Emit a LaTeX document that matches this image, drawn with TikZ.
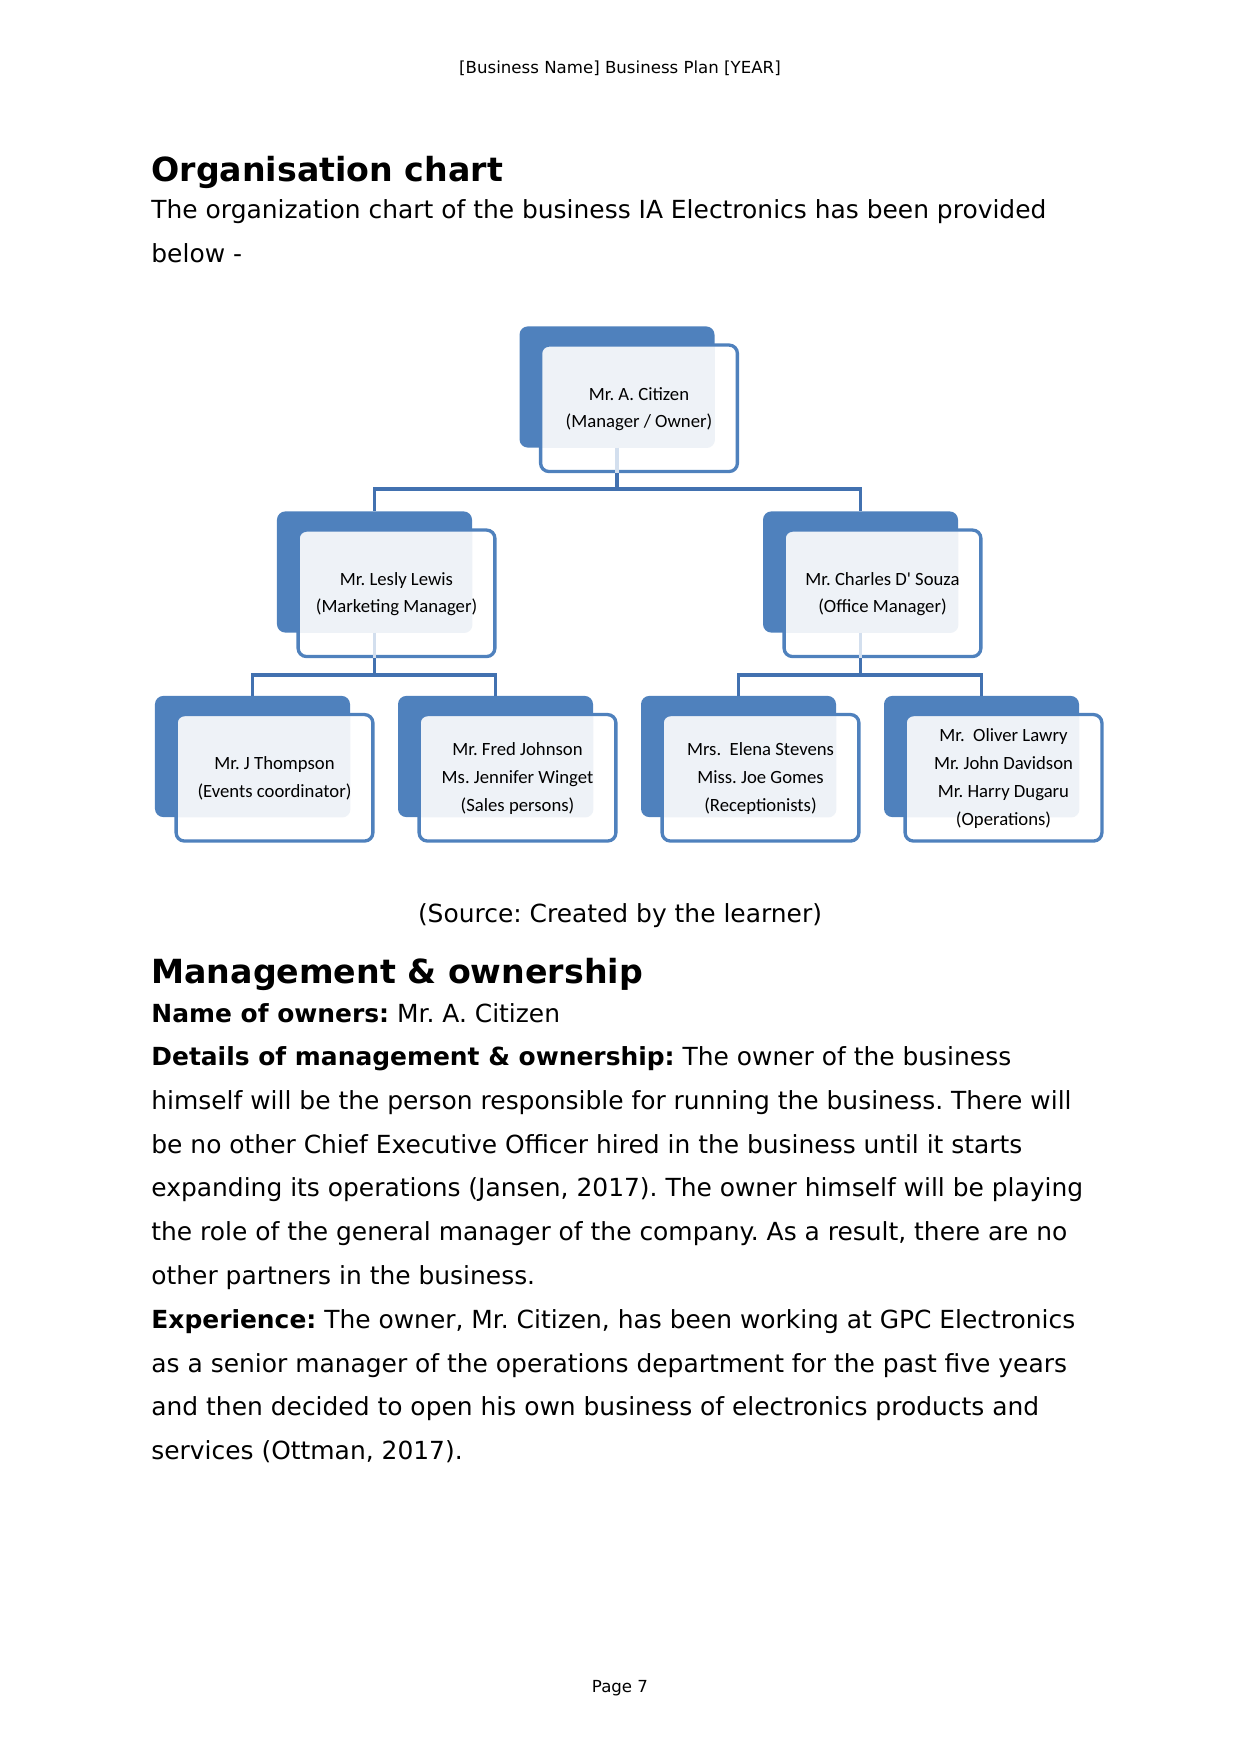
\documentclass[tikz,border=0pt]{standalone}
\usepackage{fontspec}
\setmainfont{DejaVu Sans}
\newfontfamily\chartfont{Carlito}
\frenchspacing
\definecolor{boxblue}{RGB}{79,129,189}
\definecolor{linkblue}{RGB}{66,113,176}
\definecolor{boxpale}{RGB}{238,242,247}
\tikzset{
  back/.style={rectangle, rounded corners=4pt, fill=boxblue, inner sep=0pt,
    minimum width=3.30cm, minimum height=2.05cm},
  front/.style={rectangle, rounded corners=4pt, draw=boxblue, line width=1.6pt,
    fill=white, inner sep=0pt, minimum width=3.33cm, minimum height=2.14cm,
    shift={(22,21.3)},
    path picture={\fill[boxpale, rounded corners=4pt] (#1.south west) rectangle (#1.north east);}},
  names/.style={align=center, inner sep=0pt, yshift=-0.4pt,
    font=\chartfont\fontsize{9}{13.4}\selectfont},
  link/.style={draw=linkblue, line width=1.6pt},
  body/.style={anchor=base west, inner sep=0pt, font=\fontsize{12}{21}\selectfont},
}
\begin{document}
\begin{tikzpicture}[x=0.016922cm, y=-0.016922cm]
  \useasboundingbox (0,0) rectangle (1241,1754);
  % page header and intro
  \node[anchor=base, inner sep=0pt, font=\fontsize{8}{10}\selectfont] (head) at (620,74) {[Business Name] Business Plan [YEAR]};
  \node[anchor=base west, inner sep=0pt, font=\bfseries\fontsize{16}{19}\selectfont] (title1) at (151,182) {Organisation chart};
  \node[body] (intro1) at (151,219) {The organization chart of the business IA Electronics has been provided};
  \node[body] (intro2) at (151,263) {below -};
  % back shapes
  \node[back] (ceo) at (617,387) {};
  \node[back] (mkt) at (374.5,572) {};
  \node[back] (off) at (860.5,572) {};
  \node[back] (evt) at (252.5,756.5) {};
  \node[back] (sal) at (495.5,756.5) {};
  \node[back] (rec) at (738.5,756.5) {};
  \node[back] (ops) at (981.5,756.5) {};
  % front shapes
  \node[front=ceo] (ceo-f) at (ceo) {};
  \node[front=mkt] (mkt-f) at (mkt) {};
  \node[front=off] (off-f) at (off) {};
  \node[front=evt] (evt-f) at (evt) {};
  \node[front=sal] (sal-f) at (sal) {};
  \node[front=rec] (rec-f) at (rec) {};
  \node[front=ops] (ops-f) at (ops) {};
  % names
  \node[names] (ceo-t) at (ceo-f) {Mr. A. Citizen\\(Manager / Owner)};
  \node[names] (mkt-t) at (mkt-f) {Mr. Lesly Lewis\\(Marketing Manager)};
  \node[names] (off-t) at (off-f) {Mr. Charles D' Souza\\(Office Manager)};
  \node[names] (evt-t) at (evt-f) {Mr. J Thompson\\(Events coordinator)};
  \node[names] (sal-t) at (sal-f) {Mr. Fred Johnson\\Ms. Jennifer Winget\\(Sales persons)};
  \node[names] (rec-t) at (rec-f) {Mrs.~~Elena Stevens\\Miss. Joe Gomes\\(Receptionists)};
  \node[names] (ops-t) at (ops-f) {Mr.~~Oliver Lawry\\Mr. John Davidson\\Mr. Harry Dugaru\\(Operations)};
  % connectors
  \coordinate (topbar) at (617,489);
  \coordinate (leftbar) at (374.5,675);
  \coordinate (rightbar) at (860.5,675);
  \draw[link, draw=boxblue!25] (ceo.south) -- (ceo.south |- ceo-f.south);
  \draw[link, draw=boxblue!25] (mkt.south) -- (mkt.south |- mkt-f.south);
  \draw[link, draw=boxblue!25] (off.south) -- (off.south |- off-f.south);
  \draw[link] (ceo.south |- ceo-f.south) -- (topbar);
  \draw[link] (mkt.north) |- (topbar) -| (off.north);
  \draw[link] (mkt.south |- mkt-f.south) -- (leftbar);
  \draw[link] (evt.north) |- (leftbar) -| (sal.north);
  \draw[link] (off.south |- off-f.south) -- (rightbar);
  \draw[link] (rec.north) |- (rightbar) -| (ops.north);
  % source and management text
  \node[anchor=base, inner sep=0pt, font=\fontsize{12}{21}\selectfont] (source) at (620,922) {(Source: Created by the learner)};
  \node[anchor=base west, inner sep=0pt, font=\bfseries\fontsize{16}{19}\selectfont] (title2) at (151,983) {Management \& ownership};
  \node[body] (line1) at (151,1022) {\textbf{Name of owners:} Mr. A. Citizen};
  \node[body] (line2) at (151,1065) {\textbf{Details of management \& ownership:} The owner of the business};
  \node[body] (line3) at (151,1109) {himself will be the person responsible for running the business. There will};
  \node[body] (line4) at (151,1153) {be no other Chief Executive Officer hired in the business until it starts};
  \node[body] (line5) at (151,1196) {expanding its operations (Jansen, 2017). The owner himself will be playing};
  \node[body] (line6) at (151,1240) {the role of the general manager of the company. As a result, there are no};
  \node[body] (line7) at (151,1284) {other partners in the business.};
  \node[body] (line8) at (151,1328) {\textbf{Experience:} The owner, Mr. Citizen, has been working at GPC Electronics};
  \node[body] (line9) at (151,1372) {as a senior manager of the operations department for the past five years};
  \node[body] (line10) at (151,1415) {and then decided to open his own business of electronics products and};
  \node[body] (line11) at (151,1459) {services (Ottman, 2017).};
  % footer
  \node[anchor=base, inner sep=0pt, font=\fontsize{8}{10}\selectfont] (foot) at (620,1692) {Page 7};
\end{tikzpicture}
\end{document}
